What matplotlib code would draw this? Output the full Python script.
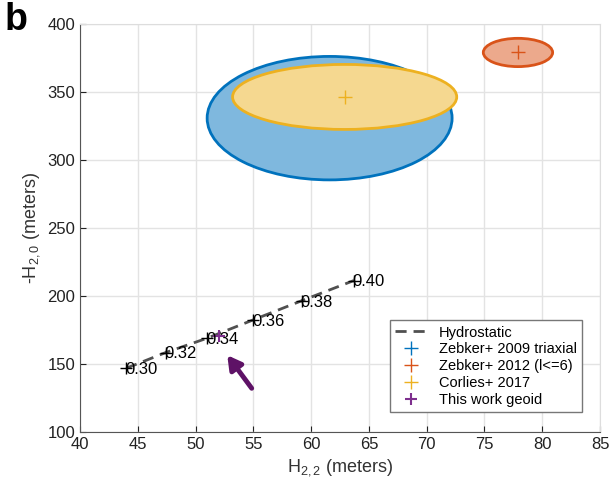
import matplotlib
matplotlib.use('Agg')
import matplotlib.pyplot as plt
from matplotlib.patches import Ellipse

plt.rcParams['font.family'] = ['Liberation Sans', 'DejaVu Sans']
plt.rcParams['mathtext.fontset'] = 'custom'
plt.rcParams['mathtext.rm'] = 'Liberation Sans'
plt.rcParams['mathtext.it'] = 'Liberation Sans'

# hydrostatic curve (H22, -H20) labelled by moment of inertia
hydro_x = [44.0, 47.4, 51.0, 55.0, 59.2, 63.7]
hydro_y = [146.8, 158.3, 168.9, 182.4, 196.5, 211.3]
hydro_labels = ['0.30', '0.32', '0.34', '0.36', '0.38', '0.40']

# published solutions: centre and semi-axes of uncertainty ellipses
sol_names = ['Zebker+ 2009 triaxial', 'Zebker+ 2012 (l<=6)', 'Corlies+ 2017']
sol_x = [61.6, 77.9, 62.9]
sol_y = [330.7, 379.0, 346.3]
sol_dx = [10.6, 3.0, 9.7]
sol_dy = [45.4, 10.4, 23.9]
sol_colors = ['#0072BD', '#D95319', '#EDB120']
sol_fills = ['#7FB8DE', '#ECA98C', '#F5D890']

# this work
geoid_x = [52.0]
geoid_y = [170.6]
arrow_tail = (55.0, 130.4)
arrow_head = (52.6, 158.0)

fig = plt.figure(figsize=(6.11, 4.88), dpi=100)
ax = fig.add_axes([0.131, 0.115, 0.851, 0.836])

handles = []
for i in range(len(sol_names)):
    z = 2 + i
    e = Ellipse((sol_x[i], sol_y[i]), 2 * sol_dx[i], 2 * sol_dy[i],
                facecolor=sol_fills[i], edgecolor=sol_colors[i], lw=2, zorder=z)
    ax.add_patch(e)
    h, = ax.plot(sol_x[i], sol_y[i], '+', color=sol_colors[i], ms=10, mew=1, zorder=z + 0.5)
    handles.append(h)

h_line, = ax.plot(hydro_x, hydro_y, '--', color='#505050', lw=2, dashes=(4, 2.5), zorder=6)
ax.plot(hydro_x, hydro_y, '+', color='black', ms=8, mew=1, zorder=7)

hg, = ax.plot(geoid_x, geoid_y, '+', color='#7E2F8E', ms=8, mew=1.5, zorder=7)

for x, y, s in zip(hydro_x, hydro_y, hydro_labels):
    ax.text(x - 0.1, y - 1, s, fontsize=12, va='center', ha='left', zorder=8)

ax.annotate('', xy=arrow_head, xytext=arrow_tail,
            arrowprops=dict(arrowstyle='-|>,head_width=0.45,head_length=0.8',
                            color='#5E1266', lw=3.5), zorder=8)

ax.legend([h_line] + handles + [hg], ['Hydrostatic'] + sol_names + ['This work geoid'],
          loc='lower right', bbox_to_anchor=(0.98, 0.03), fontsize=10.5,
          frameon=True, fancybox=False, edgecolor='#777777', framealpha=1,
          handlelength=2.2, borderpad=0.35, labelspacing=0.2)

ax.set_xlim(40, 85)
ax.set_ylim(100, 400)
ax.set_xticks(range(40, 86, 5))
ax.set_yticks(range(100, 401, 50))
ax.grid(True, color='#e3e3e3', lw=1, zorder=0)
ax.set_axisbelow(True)
for s in ['top', 'right']:
    ax.spines[s].set_color('#dddddd')
for s in ['left', 'bottom']:
    ax.spines[s].set_color('#555555')
ax.tick_params(direction='in', labelsize=12, colors='#222222', length=4, top=False, right=False)
ax.set_xlabel('H$_{2,2}$ (meters)', fontsize=13, color='#333333')
ax.set_ylabel('-H$_{2,0}$ (meters)', fontsize=13, color='#333333')

fig.text(0.008, 0.995, 'b', fontsize=27, fontweight='bold', va='top', ha='left')

fig.savefig('out.png', dpi=100)
